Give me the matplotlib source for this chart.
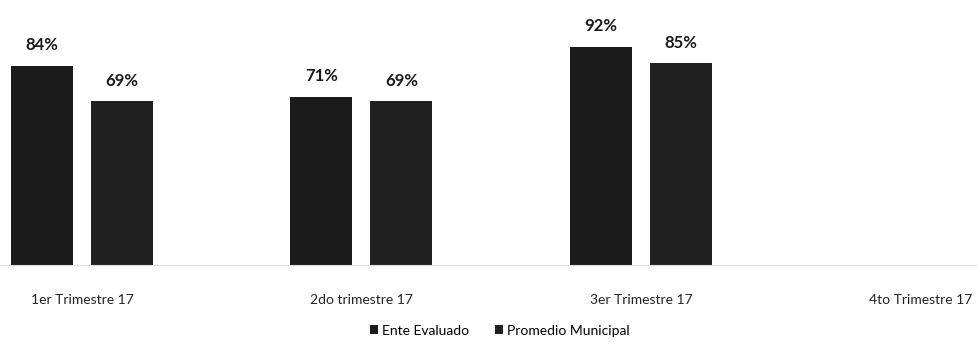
import matplotlib
matplotlib.use("Agg")
import matplotlib.pyplot as plt
import numpy as np

plt.rcParams["font.family"] = ["Lato", "DejaVu Sans"]

categories = ["1er Trimestre 17", "2do trimestre 17", "3er Trimestre 17", "4to Trimestre 17"]
ente = [0.84, 0.71, 0.92, np.nan]
promedio = [0.69, 0.69, 0.85, np.nan]
series_names = ["Ente Evaluado", "Promedio Municipal"]

fig = plt.figure(figsize=(9.78, 3.48), dpi=100)
ax = fig.add_axes([0, 0.2385, 1, 0.74])

x = np.arange(len(categories))
w = 0.222
off = 0.143
b1 = ax.bar(x - off, ente, w, color="#1b1b1b", label=series_names[0])
b2 = ax.bar(x + off, promedio, w, color="#202020", label=series_names[1])

for bars, vals in [(b1, ente), (b2, promedio)]:
    for rect, v in zip(bars, vals):
        if np.isnan(v):
            continue
        ax.annotate(f"{v:.0%}", (rect.get_x() + rect.get_width() / 2, v),
                    xytext=(0, 9), textcoords="offset points",
                    ha="center", va="bottom", fontsize=12, fontweight="bold",
                    color="#1a1a1a")

ax.set_xlim(-0.293, 3.206)
ax.set_ylim(0, 1.086)
ax.set_xticks(x)
ax.set_xticklabels(categories, fontsize=10, color="#222222")
ax.tick_params(axis="x", length=0, pad=21)
ax.set_yticks([])
for s in ["top", "right", "left"]:
    ax.spines[s].set_visible(False)
ax.spines["bottom"].set_color("#dddddd")
ax.spines["bottom"].set_linewidth(0.8)

fig.legend(handles=[b1, b2], loc="center", bbox_to_anchor=(0.511, 0.05),
           ncol=2, frameon=False, fontsize=10, handlelength=0.6, handleheight=0.6,
           handletextpad=0.3, columnspacing=1.8)

fig.savefig("out.png", dpi=100, facecolor="white")
